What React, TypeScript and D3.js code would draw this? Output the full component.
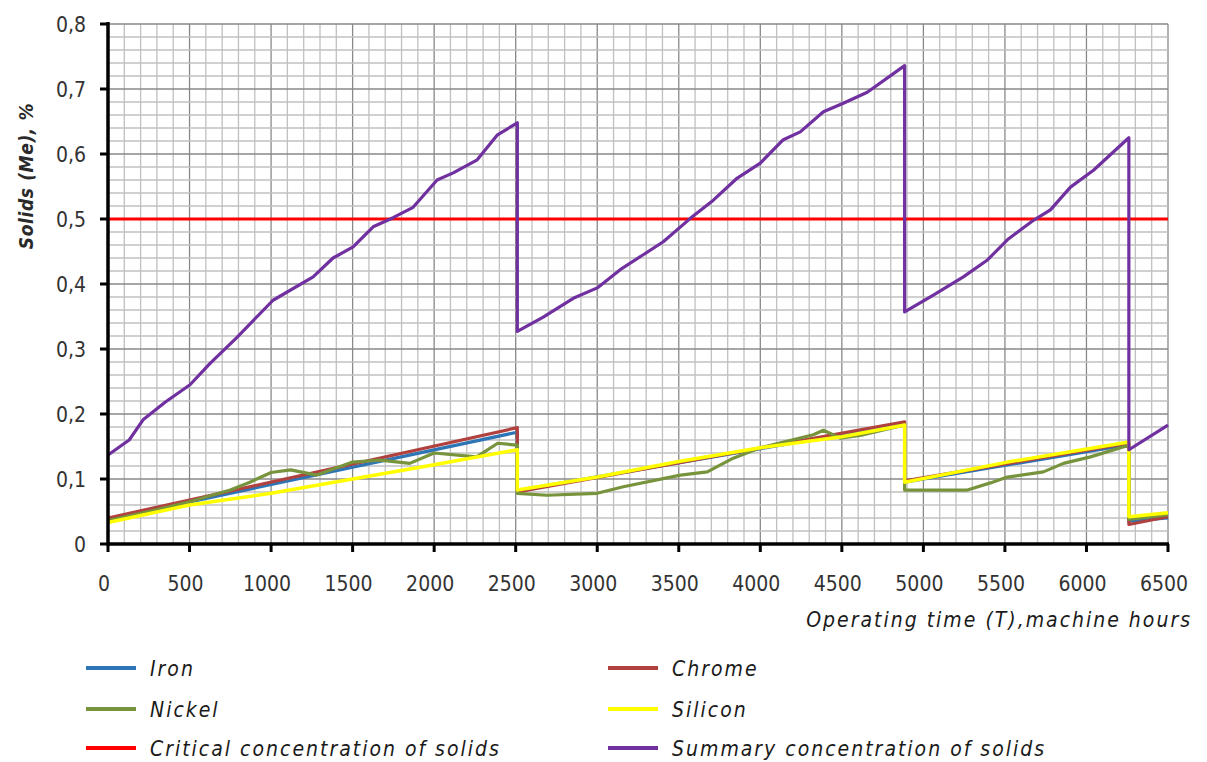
import React from "react";
import * as d3 from "d3";

// ---------- data ----------
const xTicks = [0, 500, 1000, 1500, 2000, 2500, 3000, 3500, 4000, 4500, 5000, 5500, 6000, 6500];
const yTicks = [0, 0.1, 0.2, 0.3, 0.4, 0.5, 0.6, 0.7, 0.8];

const ironHours = [0, 2510, 2510, 4885, 4885, 6260, 6260, 6500];
const ironValues = [0.038, 0.172, 0.082, 0.185, 0.095, 0.153, 0.035, 0.04];

const chromeHours = [0, 2510, 2510, 4885, 4885, 6260, 6260, 6500];
const chromeValues = [0.04, 0.179, 0.08, 0.188, 0.097, 0.155, 0.03, 0.042];

const nickelHours = [0, 250, 500, 750, 870, 1000, 1120, 1280, 1500, 1670, 1850, 2000, 2260, 2390, 2510,
  2510, 2690, 3000, 3160, 3510, 3675, 3834, 4000, 4325, 4387, 4490, 4632, 4885,
  4885, 5270, 5411, 5515, 5736, 5859, 6025, 6260, 6260, 6500];
const nickelValues = [0.036, 0.05, 0.065, 0.083, 0.095, 0.11, 0.114, 0.106, 0.126, 0.129, 0.124, 0.14, 0.134, 0.155, 0.152,
  0.078, 0.075, 0.078, 0.088, 0.106, 0.111, 0.132, 0.148, 0.168, 0.175, 0.163, 0.168, 0.183,
  0.083, 0.083, 0.094, 0.103, 0.111, 0.124, 0.134, 0.152, 0.038, 0.045];

const siliconHours = [0, 500, 1000, 1500, 2000, 2510, 2510, 3000, 3500, 4000, 4500, 4885, 4885, 5515, 6260, 6260, 6500];
const siliconValues = [0.033, 0.06, 0.078, 0.1, 0.122, 0.145, 0.083, 0.103, 0.127, 0.148, 0.165, 0.183, 0.095, 0.126, 0.157, 0.042, 0.048];

const criticalHours = [0, 6500];
const criticalValues = [0.5, 0.5];

const summaryHours = [0, 130, 215, 350, 503, 626, 791, 1012, 1258, 1380, 1503, 1626, 1748, 1871, 2018, 2117, 2264, 2386, 2510,
  2510, 2669, 2853, 3000, 3141, 3282, 3405, 3571, 3712, 3859, 4000, 4141, 4245, 4387, 4509, 4656, 4885,
  4885, 5061, 5245, 5393, 5515, 5675, 5779, 5902, 6043, 6260, 6260, 6500];
const summaryValues = [0.137, 0.16, 0.191, 0.218, 0.245, 0.278, 0.318, 0.375, 0.411, 0.44, 0.457, 0.488, 0.502, 0.518, 0.56, 0.571, 0.591, 0.629, 0.648,
  0.327, 0.349, 0.378, 0.394, 0.422, 0.445, 0.465, 0.501, 0.529, 0.563, 0.586, 0.622, 0.634, 0.665, 0.678, 0.695, 0.736,
  0.357, 0.383, 0.411, 0.437, 0.468, 0.498, 0.514, 0.549, 0.575, 0.625, 0.145, 0.183];

const seriesNames = ["Iron", "Chrome", "Nickel", "Silicon", "Critical concentration of solids", "Summary concentration of solids"];
const seriesColors = ["#2e75b6", "#b0413e", "#77933c", "#ffff00", "#ff0000", "#7030a0"];

const xTitle = "Operating time (T),machine hours";
const yTitle = "Solids (Me), %";

// ---------- chart ----------
const W = 1207;
const H = 762;
const FONT = "'DejaVu Sans Condensed', 'DejaVu Sans', sans-serif";

export default function App() {
  const x = d3.scaleLinear().domain([0, 6500]).range([108, 1168]);
  const y = d3.scaleLinear().domain([0, 0.8]).range([544, 24]);

  const series = [
    { hours: ironHours, values: ironValues },
    { hours: chromeHours, values: chromeValues },
    { hours: nickelHours, values: nickelValues },
    { hours: siliconHours, values: siliconValues },
    { hours: criticalHours, values: criticalValues },
    { hours: summaryHours, values: summaryValues },
  ];

  const line = d3
    .line<[number, number]>()
    .x((d) => x(d[0]))
    .y((d) => y(d[1]));

  const vGrid = d3.range(0, 6501, 100);
  const hGrid = d3.range(0, 41).map((i) => i * 0.02);

  const fmtY = (d: number) => (d === 0 ? "0" : d.toFixed(1).replace(".", ","));

  const legendRows = [0, 1, 2];
  const legendY = [668, 709, 748];
  const legendColX = [86, 608];

  return (
    <svg width={W} height={H} style={{ position: "absolute", left: 0, top: 0, background: "#fff" }}>
      {/* grid */}
      <g>
        {vGrid.map((h) => (
          <line
            key={"v" + h}
            x1={x(h)}
            x2={x(h)}
            y1={y(0)}
            y2={y(0.8)}
            stroke={h % 500 === 0 ? "#888" : "#c0c0c0"}
            strokeWidth={1.3}
          />
        ))}
        {hGrid.map((v, i) => (
          <line
            key={"h" + i}
            x1={x(0)}
            x2={x(6500)}
            y1={y(v)}
            y2={y(v)}
            stroke={i % 5 === 0 ? "#888" : "#c0c0c0"}
            strokeWidth={1.3}
          />
        ))}
      </g>

      {/* series */}
      {series.map((s, i) => (
        <path
          key={seriesNames[i]}
          d={line(s.hours.map((h, j) => [h, s.values[j]] as [number, number])) || ""}
          fill="none"
          stroke={seriesColors[i]}
          strokeWidth={i === 3 ? 3.5 : 3.2}
          strokeLinejoin="round"
        />
      ))}

      {/* axes */}
      <line x1={x(0)} x2={x(0)} y1={y(0.8) - 2} y2={y(0) + 2} stroke="#000" strokeWidth={3.5} />
      <line x1={x(0) - 2} x2={x(6500) + 1} y1={y(0)} y2={y(0)} stroke="#000" strokeWidth={3.5} />
      {yTicks.map((t) => (
        <g key={"yt" + t}>
          <line x1={x(0) - 8} x2={x(0)} y1={y(t)} y2={y(t)} stroke="#000" strokeWidth={3} />
          <text
            x={86}
            y={y(t)}
            dy="0.36em"
            textAnchor="end"
            fontFamily={FONT}
            fontSize={21}
            fill="#333"
          >
            {fmtY(t)}
          </text>
        </g>
      ))}
      {xTicks.map((t) => (
        <g key={"xt" + t}>
          <line x1={x(t)} x2={x(t)} y1={y(0)} y2={y(0) + 8} stroke="#000" strokeWidth={3} />
          <text
            x={x(t) - 4}
            y={591}
            textAnchor="middle"
            fontFamily={FONT}
            fontSize={21}
            fill="#333"
          >
            {t}
          </text>
        </g>
      ))}

      {/* axis titles */}
      <text
        transform={`translate(33,176) rotate(-90)`}
        textAnchor="middle"
        fontFamily={FONT}
        fontSize={19}
        fontStyle="italic"
        fontWeight="bold"
        fill="#2a2a2a"
        letterSpacing={0.6}
      >
        {yTitle}
      </text>
      <text
        x={1192}
        y={627}
        textAnchor="end"
        fontFamily={FONT}
        fontSize={21}
        fontStyle="italic"
        fill="#1a1a1a"
        letterSpacing={2}
      >
        {xTitle}
      </text>

      {/* legend */}
      {seriesNames.map((name, i) => {
        const col = i % 2;
        const row = legendRows[Math.floor(i / 2)];
        const lx = legendColX[col];
        const ly = legendY[row];
        return (
          <g key={"lg" + name}>
            <line x1={lx} x2={lx + 50} y1={ly} y2={ly} stroke={seriesColors[i]} strokeWidth={4} />
            <text
              x={lx + 64}
              y={ly}
              dy="0.36em"
              fontFamily={FONT}
              fontSize={21}
              fontStyle="italic"
              fill="#1a1a1a"
              letterSpacing={2}
            >
              {name}
            </text>
          </g>
        );
      })}
    </svg>
  );
}
